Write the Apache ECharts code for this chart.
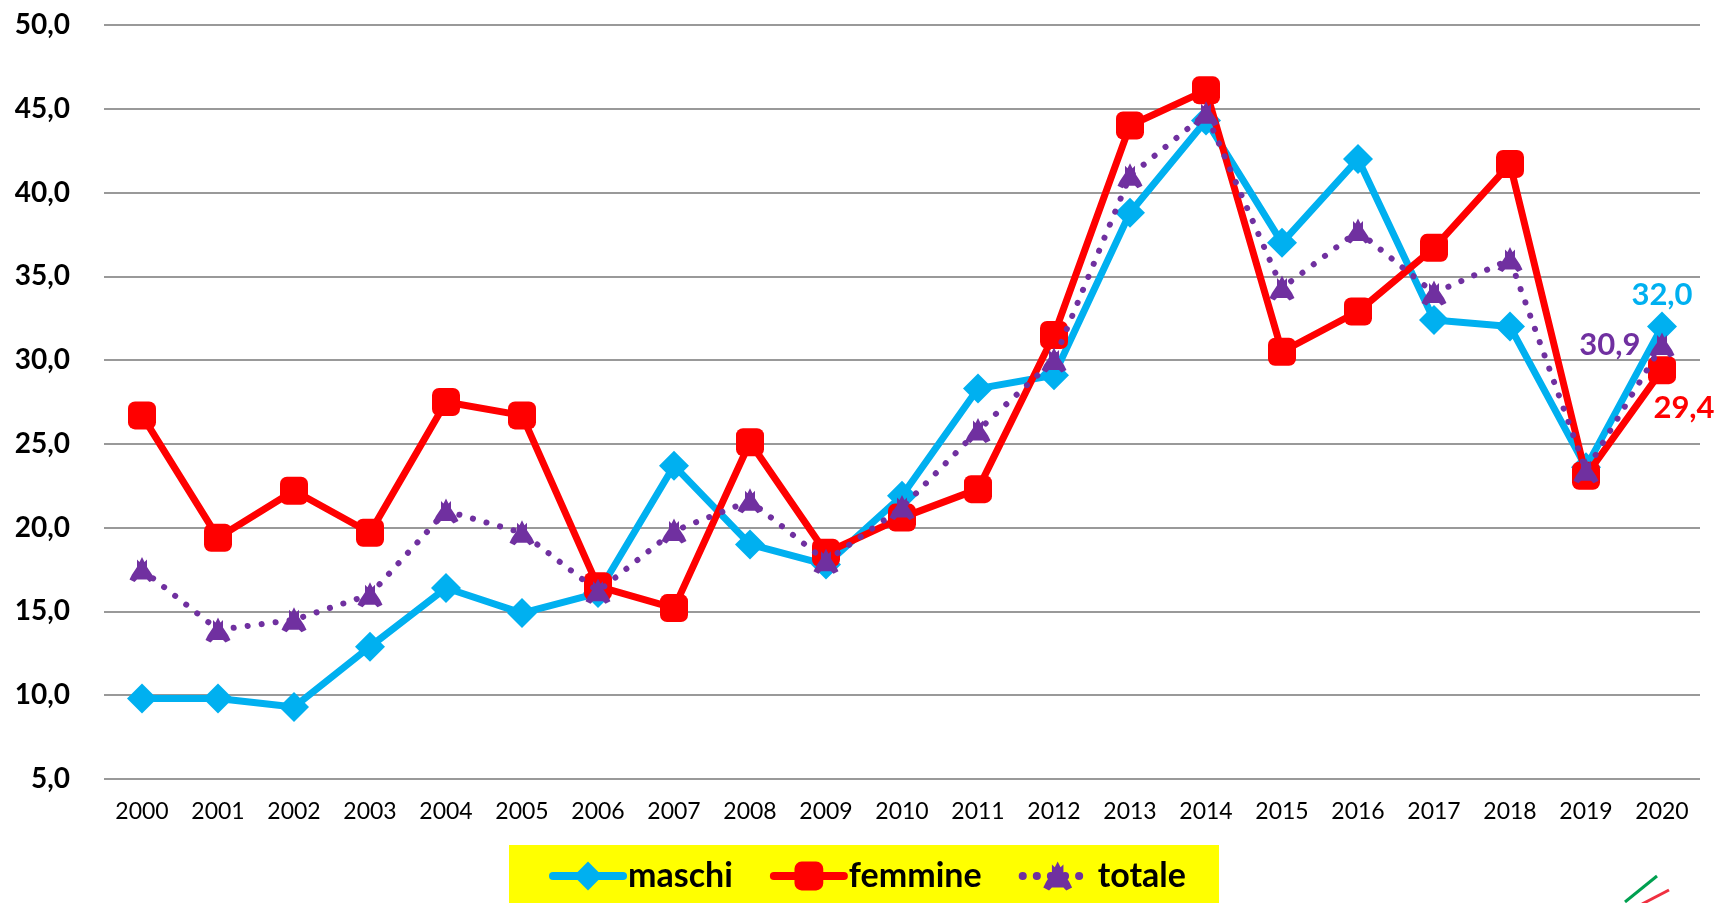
<!DOCTYPE html>
<html>
<head>
<meta charset="utf-8">
<script src="https://cdn.jsdelivr.net/npm/echarts@6/dist/echarts.min.js"></script>
<style>
  html, body { margin: 0; padding: 0; background: #fff; }
  #chart { width: 1724px; height: 903px; }
</style>
</head>
<body>
<div id="chart"></div>
<script>
const years = ['2000', '2001', '2002', '2003', '2004', '2005', '2006', '2007', '2008', '2009', '2010',
  '2011', '2012', '2013', '2014', '2015', '2016', '2017', '2018', '2019', '2020']

const maschi = [9.8, 9.8, 9.3, 12.9, 16.4, 14.9, 16.1, 23.7, 19.0, 17.8, 21.9,
  28.3, 29.1, 38.8, 44.3, 37.0, 42.0, 32.4, 32.0, 23.6, 32.0]
const femmine = [26.7, 19.4, 22.2, 19.7, 27.5, 26.7, 16.5, 15.2, 25.1, 18.5, 20.6,
  22.3, 31.5, 44.0, 46.1, 30.5, 32.9, 36.7, 41.7, 23.1, 29.4]
const totale = [17.5, 13.9, 14.5, 16.0, 21.0, 19.7, 16.2, 19.8, 21.6, 18.0, 21.2,
  25.8, 30.0, 41.0, 44.7, 34.3, 37.7, 34.0, 36.0, 23.4, 30.9]

const yMin = 5
const yMax = 50
const yStep = 5

const font = 'Lato, "Open Sans", sans-serif'
const cyan = '#00B0F0'
const red = '#FF0000'
const purple = '#7030A0'

// odd little "castle" marker used for totale
const totaleSymbol = 'path://M5,0 L6,2 L7,1 L7,4 L9,7 L10,9 L8,10 L7,9 L3,9 L2,10 L0,9 L1,7 L3,4 L3,1 L4,2 Z'

function fmt(v) {
  return v.toFixed(1).replace('.', ',')
}

// only the last point (2020) gets a value label
function lastLabel(arr, color, position, offset) {
  return arr.map((v, i) => {
    if (i != arr.length - 1) return v
    return {
      value: v,
      label: {
        show: true,
        position: position,
        offset: offset,
        color: color,
        fontFamily: font,
        fontWeight: 'bold',
        fontSize: 31,
        formatter: (p) => fmt(p.value)
      }
    }
  })
}

const myChart = echarts.init(document.getElementById('chart'))

const option = {
  animation: false,
  backgroundColor: '#fff',
  grid: {
    left: 104,
    right: 24,
    top: 25,
    bottom: 124
  },
  xAxis: {
    type: 'category',
    data: years,
    boundaryGap: true,
    axisLine: { show: false },
    axisTick: { show: false },
    axisLabel: {
      color: '#000',
      fontFamily: font,
      fontSize: 23,
      margin: 21
    }
  },
  yAxis: {
    type: 'value',
    min: yMin,
    max: yMax,
    interval: yStep,
    axisLine: { show: false },
    axisTick: { show: false },
    splitLine: {
      lineStyle: { color: '#999', width: 2 }
    },
    axisLabel: {
      color: '#000',
      fontFamily: font,
      fontWeight: 'bold',
      fontSize: 28,
      margin: 34,
      formatter: (v) => fmt(v)
    }
  },
  legend: {
    left: 549,
    top: 859,
    padding: 0,
    itemGap: 37,
    itemWidth: 70,
    itemHeight: 36,
    lineStyle: { width: 8, cap: 'round' },
    textStyle: {
      color: '#000',
      fontFamily: font,
      fontWeight: 'bold',
      fontSize: 34
    },
    data: ['maschi', 'femmine', 'totale']
  },
  series: [
    {
      name: 'maschi',
      type: 'line',
      data: lastLabel(maschi, cyan, 'top', [0, 4]),
      symbol: 'diamond',
      symbolSize: 30,
      itemStyle: { color: cyan },
      lineStyle: { color: cyan, width: 7 },
      z: 2
    },
    {
      name: 'femmine',
      type: 'line',
      data: lastLabel(femmine, red, 'bottom', [22, 3]),
      symbol: 'roundRect',
      symbolSize: 28,
      itemStyle: { color: red },
      lineStyle: { color: red, width: 7 },
      z: 3
    },
    {
      name: 'totale',
      type: 'line',
      data: lastLabel(totale, purple, 'left', [-4, 0]),
      symbol: totaleSymbol,
      symbolSize: 25,
      itemStyle: { color: purple },
      lineStyle: { color: purple, width: 6, type: [0.1, 14], cap: 'round' },
      z: 4
    }
  ],
  graphic: [
    {
      type: 'rect',
      z: -1,
      shape: { x: 509, y: 845, width: 710, height: 60 },
      style: { fill: '#FFFF00' }
    },
    {
      type: 'line',
      shape: { x1: 1625, y1: 902, x2: 1657, y2: 876 },
      style: { stroke: '#00A050', lineWidth: 3 }
    },
    {
      type: 'line',
      shape: { x1: 1642, y1: 904, x2: 1669, y2: 890 },
      style: { stroke: '#F03040', lineWidth: 3 }
    }
  ]
}

myChart.setOption(option)
</script>
</body>
</html>
